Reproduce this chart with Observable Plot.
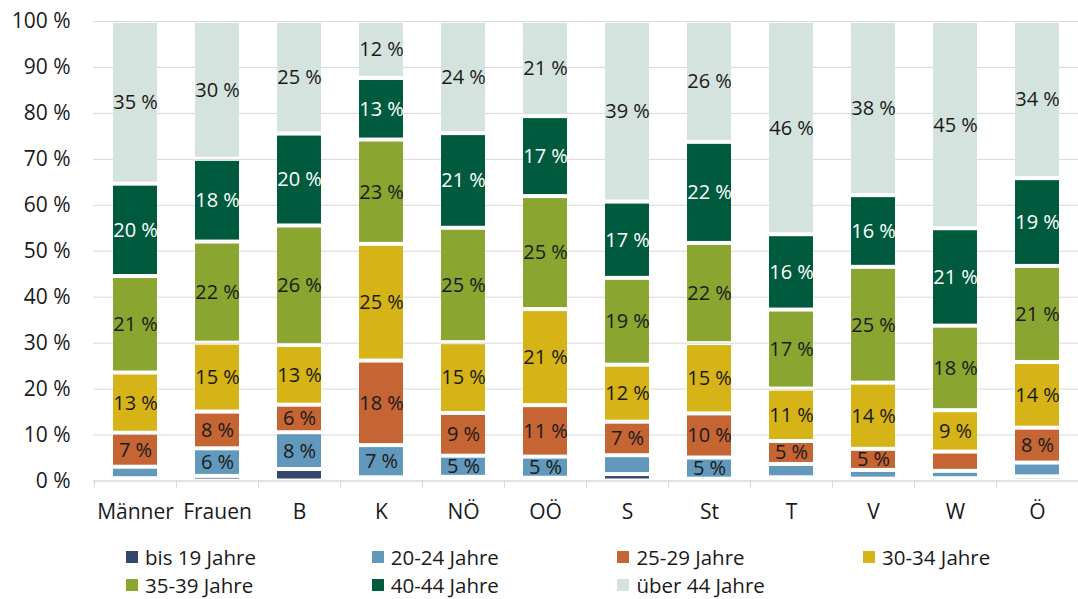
<!DOCTYPE html>
<html><head><meta charset="utf-8">
<script src="https://cdn.jsdelivr.net/npm/d3@7"></script>
<script src="https://cdn.jsdelivr.net/npm/@observablehq/plot@0.6"></script>
<style>
html,body{margin:0;background:#fff;font-family:"Open Sans",sans-serif;overflow:hidden;}
#chart svg{display:block;}
#legend{display:grid;grid-template-columns:repeat(4,245.7px);padding-left:126px;width:1078px;box-sizing:border-box;margin-top:0.5px;}
.item{height:27.5px;line-height:1;display:flex;align-items:center;font-size:20.5px;color:#1a1a1a;white-space:nowrap;}
.sw{width:12px;height:12px;margin-right:7px;flex:none;}
</style></head><body><div id="chart"></div><div id="legend"></div>
<script>
const categories = ["Männer","Frauen","B","K","NÖ","OÖ","S","St","T","V","W","Ö"];
const series = ["bis 19 Jahre","20-24 Jahre","25-29 Jahre","30-34 Jahre","35-39 Jahre","40-44 Jahre","über 44 Jahre"];
const colors = ["#33466e","#6198bb","#c56534","#d6b417","#8aa530","#005a3d","#d5e3de"];
const yTicks = [0,10,20,30,40,50,60,70,80,90,100];

const bis19   = [0.5, 1, 2.5, 0.7, 0.8, 0.6, 1.4, 0.4, 0.7, 0.4, 0.5, 0.9];
const a20_24  = [2.5, 6, 8, 7, 4.6, 4.6, 4.1, 4.6, 2.9, 1.9, 1.6, 3];
const a25_29  = [7.4, 8, 6, 18.4, 9.3, 11.2, 7.3, 9.6, 5, 4.6, 4.2, 7.6];
const a30_34  = [13.1, 15, 13, 25.4, 15.4, 20.9, 12.4, 15.3, 11.4, 14.4, 9, 14.3];
const a35_39  = [21, 22, 26, 22.7, 24.9, 24.6, 18.9, 21.8, 17.2, 25.2, 18.4, 20.9];
const a40_44  = [20.1, 18, 20, 13.4, 20.6, 17.4, 16.6, 22, 16.4, 15.6, 21.2, 19.1];
const ueber44 = [35.4, 30, 24.5, 12.4, 24.4, 20.7, 39.3, 26.3, 46.4, 37.9, 45.1, 34.2];
const valuesBySeries = [bis19, a20_24, a25_29, a30_34, a35_39, a40_44, ueber44];

const data = categories.flatMap((c, i) => series.map((s, j) => ({category: c, series: s, value: valuesBySeries[j][i]})));

const labelFor = (d) => d.value >= 4.5 ? Math.round(d.value) + " %" : "";

const chart = Plot.plot({
  width: 1078, height: 543,
  marginTop: 21, marginBottom: 62.5, marginLeft: 93, marginRight: 0,
  style: {fontFamily: '"Open Sans", sans-serif', fontSize: "21px", color: "#1a1a1a", background: "#fff"},
  x: {domain: categories, paddingInner: 0.464, paddingOuter: 0.232, label: null},
  y: {domain: [0, 100], label: null},
  color: {domain: series, range: colors},
  marks: [
    Plot.gridY({ticks: yTicks, stroke: "#d9d9d9", strokeOpacity: 1}),
    Plot.ruleY([0], {stroke: "#d9d9d9"}),
    Plot.axisY({ticks: yTicks, tickFormat: d => d + " %", tickSize: 0, tickPadding: 23, fontSize: 21}),
    Plot.axisX({tickSize: 8, tickFormat: () => "", dx: -41.04, stroke: "#d9d9d9", strokeOpacity: 1}),
    Plot.axisX({tickSize: 0, tickPadding: 23, fontSize: 21}),
    Plot.barY(data, {x: "category", y: "value", fill: "series", insetTop: 2, insetBottom: 2}),
    Plot.text(data, Plot.stackY({x: "category", y: "value", z: "series",
      text: d => d.series !== "40-44 Jahre" ? labelFor(d) : "", fill: "#1a1a1a", fontSize: 20})),
    Plot.text(data, Plot.stackY({x: "category", y: "value", z: "series",
      text: d => d.series === "40-44 Jahre" ? labelFor(d) : "", fill: "#ffffff", fontSize: 20}))
  ]
});
document.getElementById("chart").appendChild(chart);

const legend = document.getElementById("legend");
series.forEach((s, i) => {
  const it = document.createElement("div");
  it.className = "item";
  const sw = document.createElement("span");
  sw.className = "sw";
  sw.style.background = colors[i];
  it.appendChild(sw);
  it.appendChild(document.createTextNode(s));
  legend.appendChild(it);
});
</script>
</body></html>
